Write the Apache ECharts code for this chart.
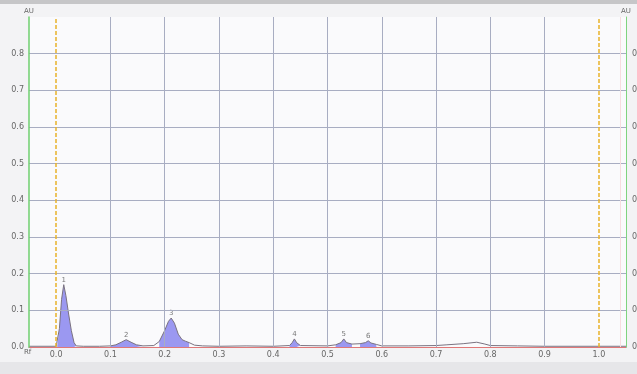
<!DOCTYPE html>
<html><head><meta charset="utf-8">
<script src="https://cdn.jsdelivr.net/npm/echarts@6/dist/echarts.min.js"></script>
<style>html,body{margin:0;padding:0;background:#f3f3f5;}#c{width:637px;height:374px;}</style>
</head><body><div id="c"></div>
<script>
// Densitometric trace (Rf, AU)
const traceRf = [-0.05,0.00,0.002,0.006,0.010,0.014,0.018,0.023,0.028,0.033,0.037,0.05,0.08,0.10,0.11,0.12,0.129,0.138,0.148,0.16,0.18,0.19,0.20,0.207,0.212,0.218,0.225,0.232,0.238,0.245,0.255,0.27,0.30,0.35,0.40,0.43,0.435,0.439,0.443,0.45,0.50,0.515,0.525,0.53,0.535,0.545,0.56,0.57,0.575,0.58,0.59,0.60,0.65,0.70,0.72,0.75,0.775,0.79,0.80,0.85,0.90,1.00,1.05];
const traceAU = [0.002,0.002,0.004,0.05,0.13,0.170,0.14,0.09,0.045,0.012,0.003,0.002,0.002,0.003,0.006,0.013,0.020,0.013,0.006,0.003,0.004,0.015,0.045,0.070,0.079,0.065,0.035,0.020,0.016,0.012,0.005,0.003,0.002,0.003,0.002,0.004,0.012,0.022,0.012,0.004,0.003,0.006,0.012,0.022,0.012,0.008,0.009,0.012,0.017,0.011,0.007,0.003,0.003,0.004,0.006,0.009,0.013,0.008,0.004,0.003,0.002,0.002,0.002];
// Integrated peaks
const peakIds = ['1','2','3','4','5','6'];
const peakStart = [0.002,0.10,0.19,0.43,0.515,0.56];
const peakEnd = [0.037,0.16,0.245,0.45,0.545,0.59];
// Axis ticks
const xTicks = [0.0,0.1,0.2,0.3,0.4,0.5,0.6,0.7,0.8,0.9,1.0];
const xGrid = [0.1,0.2,0.3,0.4,0.5,0.6,0.7,0.8,0.9];
const frontLines = [0.0,1.0];

const trace = traceRf.map((x,i)=>[x,traceAU[i]]);
const peakSeries = peakIds.map((id,k)=>({
  type:'line', data: trace.filter(p=>p[0]>=peakStart[k]&&p[0]<=peakEnd[k]),
  symbol:'none', lineStyle:{width:0}, areaStyle:{color:'#8a86ee',opacity:0.85}, z:2, silent:true
}));
const peakLabels = peakIds.map((id,k)=>{
  const pts = trace.filter(p=>p[0]>=peakStart[k]&&p[0]<=peakEnd[k]);
  let best = pts[0]; pts.forEach(p=>{ if(p[1]>best[1]) best=p; });
  return {value:best, name:id};
});

const chart = echarts.init(document.getElementById('c'), null, {renderer:'canvas'});
const lblStyle = {color:'#666', fontSize:8, fontFamily:'DejaVu Sans'};
chart.setOption({
  animation:false,
  backgroundColor:'#f3f3f5',
  grid:{left:29,right:11,top:17,bottom:27,show:true,backgroundColor:'#fafafc',borderWidth:0,outerBoundsMode:'none',containLabel:false},
  xAxis:{type:'value',min:-0.05,max:1.05,
    axisLine:{show:true,onZero:false,lineStyle:{color:'#8a8a8a',width:1}},
    axisTick:{show:false},
    splitLine:{show:false},
    axisLabel:{customValues:xTicks,formatter:v=>v.toFixed(1),margin:4,...lblStyle}},
  yAxis:[
    {type:'value',min:0,max:0.9,interval:0.1,position:'left',z:5,
     name:'AU',nameLocation:'end',nameGap:2,nameTextStyle:{color:'#666',fontSize:7,fontFamily:'DejaVu Sans',align:'center'},
     axisLine:{show:true,onZero:false,lineStyle:{color:'#6fcf6f',width:1.5}},axisTick:{show:false},
     axisLabel:{showMaxLabel:false,formatter:v=>v.toFixed(1),margin:5,...lblStyle},
     splitLine:{show:true,lineStyle:{color:['transparent','#a8adc2','#a8adc2','#a8adc2','#a8adc2','#a8adc2','#a8adc2','#a8adc2','#a8adc2','transparent'],width:1}}},
    {type:'value',min:0,max:0.9,interval:0.1,position:'right',
     name:'AU',nameLocation:'end',nameGap:2,nameTextStyle:{color:'#666',fontSize:7,fontFamily:'DejaVu Sans',align:'center'},
     axisLine:{show:true,onZero:false,lineStyle:{color:'#7fd47f',width:1}},axisTick:{show:false},
     axisLabel:{showMaxLabel:false,formatter:v=>v.toFixed(1),margin:6,...lblStyle},
     splitLine:{show:false}}
  ],
  graphic:[
    {type:'rect',left:0,top:0,shape:{width:637,height:4},style:{fill:'#c6c6c8'}},
    {type:'rect',left:0,top:362,shape:{width:637,height:12},style:{fill:'#e6e6e9'}},
    {type:'text',left:24,top:349,style:{text:'Rf',fill:'#666',fontSize:7,fontFamily:'DejaVu Sans'}}
  ],
  series:[
    {type:'line',data:[],symbol:'none',silent:true,
     markLine:{symbol:'none',silent:true,label:{show:false},
       data:[
         ...xGrid.map(v=>({xAxis:v,lineStyle:{color:'#a8adc2',width:1,type:'solid'}})),
         {xAxis:1.036,lineStyle:{color:'#f6dde0',width:1,type:'solid'}}
       ]}},
    ...peakSeries,
    {type:'line',data:trace,symbol:'none',lineStyle:{color:'#7a7280',width:1},z:3,silent:true,
     markLine:{symbol:'none',silent:true,label:{show:false},
       data:[
         ...frontLines.map(v=>({xAxis:v,lineStyle:{color:'#e8b22a',width:1.5,type:[4,2]}})),
         {yAxis:0,lineStyle:{color:'#e07878',width:1,type:'solid'}}
       ]}},
    {type:'scatter',data:peakLabels,symbolSize:0,silent:true,z:4,
     label:{show:true,position:'top',distance:1,formatter:p=>p.name,color:'#555',fontSize:7,fontFamily:'DejaVu Sans'}}
  ]
});
</script></body></html>
